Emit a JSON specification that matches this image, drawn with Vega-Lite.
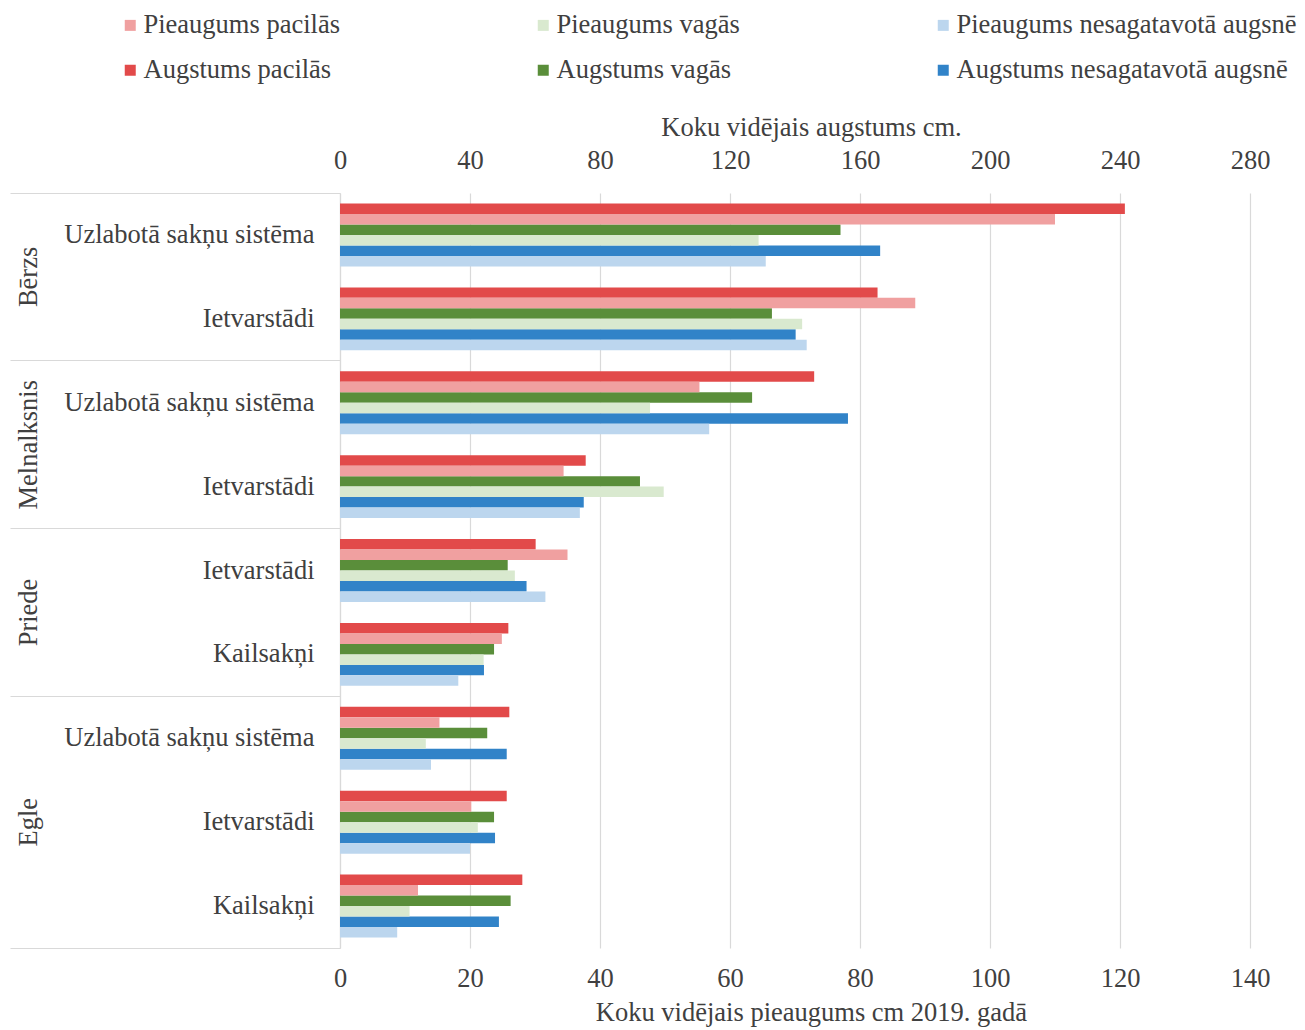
{
  "$schema": "https://vega.github.io/schema/vega-lite/v6.json",
  "width": 910,
  "height": 755,
  "autosize": {"type": "none"},
  "padding": {"left": 340, "top": 193, "right": 55, "bottom": 82},
  "background": "white",
  "config": {
    "view": {"stroke": null},
    "font": "Liberation Serif",
    "axis": {
      "labelFont": "Liberation Serif",
      "labelFontSize": 26.5,
      "labelColor": "#404040",
      "titleFont": "Liberation Serif",
      "titleFontSize": 26.5,
      "titleFontWeight": "normal",
      "titleColor": "#404040",
      "labelLimit": 400
    }
  },
  "data": {
    "values": [
      {"row": "Bērzs|Uzlabotā sakņu sistēma", "series": "Augstums pacilās", "kind": "Augstums", "value": 241.5},
      {"row": "Bērzs|Uzlabotā sakņu sistēma", "series": "Pieaugums pacilās", "kind": "Pieaugums", "value": 110},
      {"row": "Bērzs|Uzlabotā sakņu sistēma", "series": "Augstums vagās", "kind": "Augstums", "value": 154},
      {"row": "Bērzs|Uzlabotā sakņu sistēma", "series": "Pieaugums vagās", "kind": "Pieaugums", "value": 64.4},
      {"row": "Bērzs|Uzlabotā sakņu sistēma", "series": "Augstums nesagatavotā augsnē", "kind": "Augstums", "value": 166.2},
      {"row": "Bērzs|Uzlabotā sakņu sistēma", "series": "Pieaugums nesagatavotā augsnē", "kind": "Pieaugums", "value": 65.5},
      {"row": "Bērzs|Ietvarstādi", "series": "Augstums pacilās", "kind": "Augstums", "value": 165.4},
      {"row": "Bērzs|Ietvarstādi", "series": "Pieaugums pacilās", "kind": "Pieaugums", "value": 88.5},
      {"row": "Bērzs|Ietvarstādi", "series": "Augstums vagās", "kind": "Augstums", "value": 132.9},
      {"row": "Bērzs|Ietvarstādi", "series": "Pieaugums vagās", "kind": "Pieaugums", "value": 71.1},
      {"row": "Bērzs|Ietvarstādi", "series": "Augstums nesagatavotā augsnē", "kind": "Augstums", "value": 140.2},
      {"row": "Bērzs|Ietvarstādi", "series": "Pieaugums nesagatavotā augsnē", "kind": "Pieaugums", "value": 71.8},
      {"row": "Melnalksnis|Uzlabotā sakņu sistēma", "series": "Augstums pacilās", "kind": "Augstums", "value": 145.9},
      {"row": "Melnalksnis|Uzlabotā sakņu sistēma", "series": "Pieaugums pacilās", "kind": "Pieaugums", "value": 55.3},
      {"row": "Melnalksnis|Uzlabotā sakņu sistēma", "series": "Augstums vagās", "kind": "Augstums", "value": 126.8},
      {"row": "Melnalksnis|Uzlabotā sakņu sistēma", "series": "Pieaugums vagās", "kind": "Pieaugums", "value": 47.7},
      {"row": "Melnalksnis|Uzlabotā sakņu sistēma", "series": "Augstums nesagatavotā augsnē", "kind": "Augstums", "value": 156.3},
      {"row": "Melnalksnis|Uzlabotā sakņu sistēma", "series": "Pieaugums nesagatavotā augsnē", "kind": "Pieaugums", "value": 56.8},
      {"row": "Melnalksnis|Ietvarstādi", "series": "Augstums pacilās", "kind": "Augstums", "value": 75.6},
      {"row": "Melnalksnis|Ietvarstādi", "series": "Pieaugums pacilās", "kind": "Pieaugums", "value": 34.4},
      {"row": "Melnalksnis|Ietvarstādi", "series": "Augstums vagās", "kind": "Augstums", "value": 92.3},
      {"row": "Melnalksnis|Ietvarstādi", "series": "Pieaugums vagās", "kind": "Pieaugums", "value": 49.8},
      {"row": "Melnalksnis|Ietvarstādi", "series": "Augstums nesagatavotā augsnē", "kind": "Augstums", "value": 75.0},
      {"row": "Melnalksnis|Ietvarstādi", "series": "Pieaugums nesagatavotā augsnē", "kind": "Pieaugums", "value": 36.9},
      {"row": "Priede|Ietvarstādi", "series": "Augstums pacilās", "kind": "Augstums", "value": 60.2},
      {"row": "Priede|Ietvarstādi", "series": "Pieaugums pacilās", "kind": "Pieaugums", "value": 35.0},
      {"row": "Priede|Ietvarstādi", "series": "Augstums vagās", "kind": "Augstums", "value": 51.6},
      {"row": "Priede|Ietvarstādi", "series": "Pieaugums vagās", "kind": "Pieaugums", "value": 26.9},
      {"row": "Priede|Ietvarstādi", "series": "Augstums nesagatavotā augsnē", "kind": "Augstums", "value": 57.4},
      {"row": "Priede|Ietvarstādi", "series": "Pieaugums nesagatavotā augsnē", "kind": "Pieaugums", "value": 31.6},
      {"row": "Priede|Kailsakņi", "series": "Augstums pacilās", "kind": "Augstums", "value": 51.8},
      {"row": "Priede|Kailsakņi", "series": "Pieaugums pacilās", "kind": "Pieaugums", "value": 24.9},
      {"row": "Priede|Kailsakņi", "series": "Augstums vagās", "kind": "Augstums", "value": 47.4},
      {"row": "Priede|Kailsakņi", "series": "Pieaugums vagās", "kind": "Pieaugums", "value": 22.1},
      {"row": "Priede|Kailsakņi", "series": "Augstums nesagatavotā augsnē", "kind": "Augstums", "value": 44.3},
      {"row": "Priede|Kailsakņi", "series": "Pieaugums nesagatavotā augsnē", "kind": "Pieaugums", "value": 18.2},
      {"row": "Egle|Uzlabotā sakņu sistēma", "series": "Augstums pacilās", "kind": "Augstums", "value": 52.1},
      {"row": "Egle|Uzlabotā sakņu sistēma", "series": "Pieaugums pacilās", "kind": "Pieaugums", "value": 15.3},
      {"row": "Egle|Uzlabotā sakņu sistēma", "series": "Augstums vagās", "kind": "Augstums", "value": 45.3},
      {"row": "Egle|Uzlabotā sakņu sistēma", "series": "Pieaugums vagās", "kind": "Pieaugums", "value": 13.2},
      {"row": "Egle|Uzlabotā sakņu sistēma", "series": "Augstums nesagatavotā augsnē", "kind": "Augstums", "value": 51.3},
      {"row": "Egle|Uzlabotā sakņu sistēma", "series": "Pieaugums nesagatavotā augsnē", "kind": "Pieaugums", "value": 14.0},
      {"row": "Egle|Ietvarstādi", "series": "Augstums pacilās", "kind": "Augstums", "value": 51.3},
      {"row": "Egle|Ietvarstādi", "series": "Pieaugums pacilās", "kind": "Pieaugums", "value": 20.2},
      {"row": "Egle|Ietvarstādi", "series": "Augstums vagās", "kind": "Augstums", "value": 47.4},
      {"row": "Egle|Ietvarstādi", "series": "Pieaugums vagās", "kind": "Pieaugums", "value": 21.2},
      {"row": "Egle|Ietvarstādi", "series": "Augstums nesagatavotā augsnē", "kind": "Augstums", "value": 47.7},
      {"row": "Egle|Ietvarstādi", "series": "Pieaugums nesagatavotā augsnē", "kind": "Pieaugums", "value": 20.0},
      {"row": "Egle|Kailsakņi", "series": "Augstums pacilās", "kind": "Augstums", "value": 56.1},
      {"row": "Egle|Kailsakņi", "series": "Pieaugums pacilās", "kind": "Pieaugums", "value": 12.0},
      {"row": "Egle|Kailsakņi", "series": "Augstums vagās", "kind": "Augstums", "value": 52.5},
      {"row": "Egle|Kailsakņi", "series": "Pieaugums vagās", "kind": "Pieaugums", "value": 10.7},
      {"row": "Egle|Kailsakņi", "series": "Augstums nesagatavotā augsnē", "kind": "Augstums", "value": 48.9},
      {"row": "Egle|Kailsakņi", "series": "Pieaugums nesagatavotā augsnē", "kind": "Pieaugums", "value": 8.8}
    ]
  },
  "layer": [
    {
      "transform": [{"filter": "datum.kind === 'Augstums'"}],
      "mark": {"type": "bar"},
      "encoding": {
        "x": {
          "field": "value", "type": "quantitative",
          "scale": {"domain": [0, 280], "nice": false, "zero": true},
          "axis": {
            "orient": "top", "title": "Koku vidējais augstums cm.",
            "values": [0, 40, 80, 120, 160, 200, 240, 280],
            "grid": true, "gridColor": "#d9d9d9", "gridWidth": 1.2, "labelFlush": false,
            "ticks": false, "domain": false, "labelPadding": 19, "titlePadding": 6, "titleX": 471
          }
        },
        "y": {
          "field": "row", "type": "nominal",
          "scale": {
            "domain": ["Bērzs|Uzlabotā sakņu sistēma", "Bērzs|Ietvarstādi", "Melnalksnis|Uzlabotā sakņu sistēma", "Melnalksnis|Ietvarstādi", "Priede|Ietvarstādi", "Priede|Kailsakņi", "Egle|Uzlabotā sakņu sistēma", "Egle|Ietvarstādi", "Egle|Kailsakņi"],
            "paddingInner": 0, "paddingOuter": 0
          },
          "axis": {
            "orient": "left", "title": null,
            "labelExpr": "split(datum.label, '|')[1]",
            "ticks": false, "domain": true, "domainColor": "#d9d9d9", "domainWidth": 1.2,
            "labelPadding": 26, "labelAlign": "right", "labelBaseline": "middle", "grid": false
          }
        },
        "yOffset": {
          "field": "series", "type": "nominal",
          "scale": {
            "domain": ["Augstums pacilās", "Pieaugums pacilās", "Augstums vagās", "Pieaugums vagās", "Augstums nesagatavotā augsnē", "Pieaugums nesagatavotā augsnē"],
            "paddingInner": 0, "paddingOuter": 1.0
          }
        },
        "color": {
          "field": "series", "type": "nominal",
          "scale": {
            "domain": ["Pieaugums pacilās", "Pieaugums vagās", "Pieaugums nesagatavotā augsnē", "Augstums pacilās", "Augstums vagās", "Augstums nesagatavotā augsnē"],
            "range": ["#f0a0a0", "#d9e9cf", "#bcd6ee", "#e24a4a", "#5a8e3a", "#3183c8"]
          },
          "legend": {
            "orient": "none", "legendX": -223, "legendY": -181, "title": null,
            "columns": 3, "direction": "horizontal",
            "symbolType": "square", "symbolSize": 121, "symbolStrokeWidth": 0,
            "labelFont": "Liberation Serif", "labelFontSize": 26.5, "labelColor": "#404040",
            "labelLimit": 500, "labelOffset": 0, "columnPadding": 190, "rowPadding": 18, "padding": 0
          }
        }
      }
    },
    {
      "transform": [{"filter": "datum.kind === 'Pieaugums'"}],
      "mark": {"type": "bar"},
      "encoding": {
        "x": {
          "field": "value", "type": "quantitative",
          "scale": {"domain": [0, 140], "nice": false, "zero": true},
          "axis": {
            "orient": "bottom", "title": "Koku vidējais pieaugums cm 2019. gadā",
            "values": [0, 20, 40, 60, 80, 100, 120, 140], "labelFlush": false,
            "grid": false, "ticks": false, "domain": false, "labelPadding": 17, "titlePadding": 8, "titleX": 471
          }
        },
        "y": {
          "field": "row", "type": "nominal",
          "axis": {
            "orient": "left", "title": null,
            "values": ["Bērzs|Uzlabotā sakņu sistēma", "Melnalksnis|Uzlabotā sakņu sistēma", "Priede|Ietvarstādi", "Egle|Uzlabotā sakņu sistēma"],
            "bandPosition": 0, "labels": false, "domain": false, "grid": false,
            "ticks": true, "tickSize": 330, "tickColor": "#d9d9d9", "tickWidth": 1.2
          }
        },
        "yOffset": {"field": "series", "type": "nominal"},
        "color": {"field": "series", "type": "nominal"}
      }
    },
    {
      "transform": [{"filter": "false"}],
      "mark": {"type": "point"},
      "encoding": {
        "y": {
          "field": "row", "type": "nominal",
          "axis": {
            "orient": "left", "title": null,
            "values": ["Egle|Kailsakņi"],
            "bandPosition": 1, "labels": false, "domain": false, "grid": false,
            "ticks": true, "tickSize": 330, "tickColor": "#d9d9d9", "tickWidth": 1.2
          }
        }
      }
    },
    {
      "transform": [{"filter": "false"}],
      "mark": {"type": "point"},
      "encoding": {
        "y": {
          "field": "row", "type": "nominal",
          "axis": {
            "orient": "left", "title": null,
            "values": ["Bērzs|Uzlabotā sakņu sistēma", "Melnalksnis|Uzlabotā sakņu sistēma", "Priede|Ietvarstādi"],
            "labelExpr": "split(datum.label, '|')[0]", "labelOffset": 42,
            "labelAngle": -90, "labelAlign": "center", "labelBaseline": "bottom", "labelPadding": 298,
            "ticks": false, "domain": false, "grid": false
          }
        }
      }
    },
    {
      "transform": [{"filter": "false"}],
      "mark": {"type": "point"},
      "encoding": {
        "y": {
          "field": "row", "type": "nominal",
          "axis": {
            "orient": "left", "title": null,
            "values": ["Egle|Ietvarstādi"],
            "labelExpr": "split(datum.label, '|')[0]",
            "labelAngle": -90, "labelAlign": "center", "labelBaseline": "bottom", "labelPadding": 298,
            "ticks": false, "domain": false, "grid": false
          }
        }
      }
    }
  ],
  "resolve": {"scale": {"x": "independent"}, "axis": {"x": "independent", "y": "independent"}}
}
